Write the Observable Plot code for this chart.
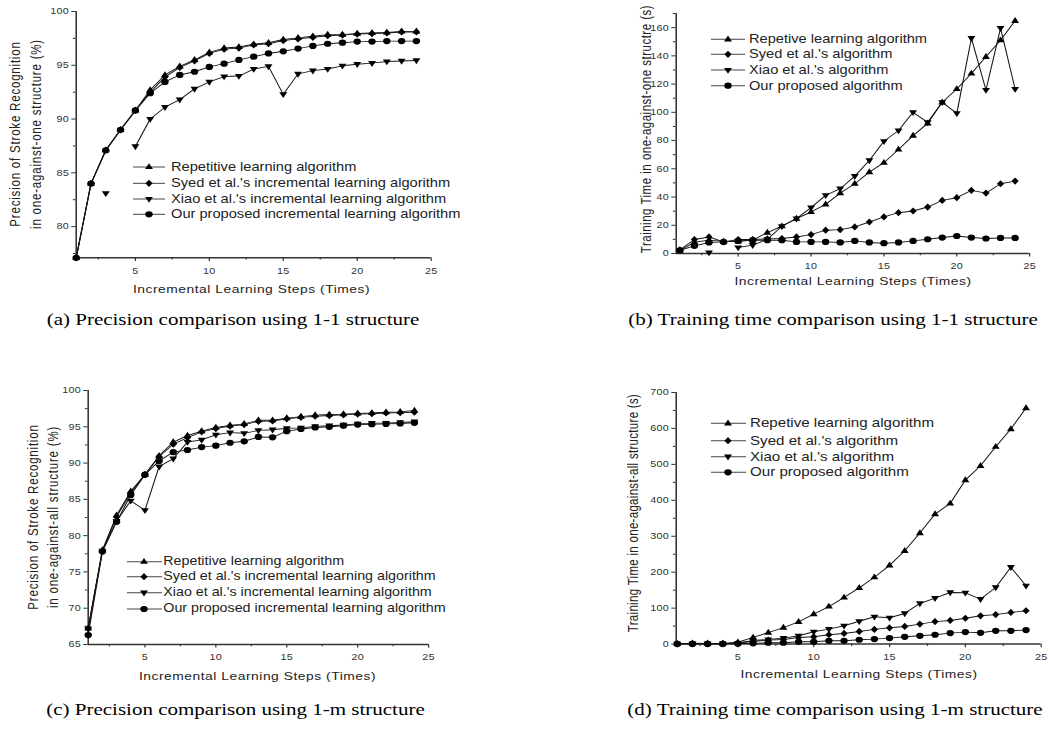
<!DOCTYPE html>
<html><head><meta charset="utf-8">
<script src="https://cdn.jsdelivr.net/npm/d3@7"></script>
<script src="https://cdn.jsdelivr.net/npm/@observablehq/plot@0.6"></script>
<style>
html,body{margin:0;padding:0;background:#fff;}
#fig{position:relative;width:875px;height:736px;transform:scaleX(1.2);transform-origin:0 0;overflow:visible;}
.abs{position:absolute;white-space:nowrap;line-height:1;}
.sans{font-family:"Liberation Sans",Arial,sans-serif;color:#222;}
.serif{font-family:"Liberation Serif","Times New Roman",serif;color:#000;}
</style></head><body><div id="fig"></div><script>
// ---------- data ----------
const steps = [1,2,3,4,5,6,7,8,9,10,11,12,13,14,15,16,17,18,19,20,21,22,23,24];
const xTicks = [5,10,15,20,25];
const xMinor = [2.5,7.5,12.5,17.5,22.5];

const seriesLong = ["Repetitive learning algorithm","Syed et al.'s incremental learning algorithm","Xiao et al.'s incremental learning algorithm","Our proposed incremental learning algorithm"];
const seriesShort = ["Repetive learning algorithm","Syed et al.'s algorithm","Xiao et al.'s algorithm","Our proposed algorithm"];

// (a) precision, 1-1 structure
const aRep  = [77.1,84.0,87.1,89.0,90.8,92.7,94.1,94.9,95.5,96.2,96.6,96.7,96.95,97.1,97.4,97.55,97.7,97.85,97.85,97.95,98.0,98.05,98.15,98.15];
const aSyed = [77.1,84.0,87.1,89.0,90.8,92.5,93.9,94.8,95.4,96.1,96.5,96.6,96.9,97.0,97.3,97.45,97.6,97.75,97.8,97.9,97.95,98.0,98.1,98.1];
const aXiao = [null,null,83.1,null,87.45,90.0,91.1,91.8,92.8,93.45,93.95,94.0,94.65,94.9,92.3,94.2,94.5,94.65,94.95,95.1,95.2,95.35,95.4,95.45];
const aOurs = [77.1,84.0,87.1,89.0,90.8,92.4,93.45,94.1,94.4,94.85,95.15,95.5,95.8,96.1,96.3,96.55,96.8,97.0,97.1,97.2,97.2,97.25,97.25,97.25];
const aYTicks = [80,85,90,95,100];
const aYMinor = [77.5,82.5,87.5,92.5,97.5];

// (b) training time, 1-1 structure
const bRep  = [2,8,9.5,8.5,8.5,9.5,14.8,19.3,24.7,29.4,34.8,42.8,49.4,57.6,64.3,73.7,83.5,92.2,107.1,116.5,127.5,139.3,151.1,164.8];
const bSyed = [2.6,9.9,11.7,8.2,9.9,9.9,10.3,10.6,11.7,13.4,16.5,16.9,18.8,22.3,25.9,28.9,30.1,32.9,37.6,39.5,44.7,42.8,49.4,51.3];
const bXiao = [null,null,0.7,null,4.2,5.9,10,19.3,24.7,32.5,41.2,45.9,54.8,65.9,79.5,87.1,100,92.9,107.1,99.3,152.5,115.8,159.6,116.5];
const bOurs = [2.3,5.4,7.8,8.2,8.9,9.4,9.4,9.4,8.2,8.2,8.2,7.8,8.9,7.8,7.3,7.8,8.9,10.1,11.3,12.4,11.3,10.6,11,11];
const bYTicks = [0,20,40,60,80,100,120,140,160];
const bYMinor = [10,30,50,70,90,110,130,150,170];

// (c) precision, 1-m structure
const cRep  = [67.2,78.0,82.8,86.1,88.4,91.0,92.9,93.8,94.4,94.9,95.2,95.4,95.9,95.9,96.2,96.4,96.6,96.7,96.75,96.85,96.9,97.0,97.05,97.25];
const cSyed = [67.2,77.9,82.6,85.9,88.4,90.9,92.6,93.5,94.3,94.75,95.1,95.3,95.75,95.8,96.1,96.3,96.45,96.55,96.65,96.75,96.8,96.9,96.95,97.0];
const cXiao = [67.2,77.9,82.0,84.8,83.5,89.5,90.6,92.9,93.2,93.9,94.2,94.1,94.5,94.6,94.8,94.85,95.05,95.15,95.25,95.4,95.5,95.5,95.6,95.7];
const cOurs = [66.3,77.8,81.9,85.6,88.4,90.3,91.5,91.8,92.2,92.4,92.8,93.0,93.6,93.55,94.4,94.7,94.9,95.0,95.15,95.3,95.35,95.4,95.45,95.55];
const cYTicks = [65,70,75,80,85,90,95,100];
const cYMinor = [67.5,72.5,77.5,82.5,87.5,92.5,97.5];

// (d) training time, 1-m structure
const dRep  = [1,2.5,2,2,5,18.5,32,46,62,83.5,104.5,129.7,156.5,186,219,259.6,308.8,361.7,391.3,456.3,496.1,549,598.2,656.6];
const dSyed = [0.5,1,1,1,3,7,11,12.8,18.5,20.3,25.9,29.6,35.1,40.9,45.3,49,55.6,62.5,65.8,71.8,78.7,82.1,88,92.7];
const dXiao = [0.5,1,1,1,3,10,12.8,16.7,23.1,34.2,41.7,50.9,63.4,76,73.2,85.2,113,128,143.6,142.7,125.2,157.5,214,162.2];
const dOurs = [0.5,0.5,0.5,0.5,1,2,3.7,3.7,6.4,6.4,9.2,9.2,12,13.9,16.7,20.3,23.1,25.9,30.6,33.4,31.4,37,37,38.9];
const dYTicks = [0,100,200,300,400,500,600,700];
const dYMinor = [50,150,250,350,450,550,650];

// ---------- drawing ----------
const S = 1.2;                 // horizontal stretch of the original figure
const X = px => px / S;
const fig = document.getElementById("fig");
const axisColor = "#333";

function poly(points){
  return {draw(ctx){ ctx.moveTo(points[0][0], points[0][1]); for (let i = 1; i < points.length; i++) ctx.lineTo(points[i][0], points[i][1]); ctx.closePath(); }};
}
const triUp   = poly([[0,-3.8],[-3.3,2.1],[3.3,2.1]]);
const diamond = poly([[0,-3.6],[3.0,0],[0,3.6],[-3.0,0]]);
const triDown = poly([[0,3.8],[-3.3,-2.1],[3.3,-2.1]]);
const circle  = {draw(ctx){ ctx.moveTo(3.1,0); ctx.arc(0,0,3.1,0,2*Math.PI); }};
const symbols = [triUp, diamond, triDown, circle];

function panel(cfg){
  const mL = 34, mR = 14, mT = 8, mB = 26;
  const L = X(cfg.left), R = X(cfg.right);
  const w = R - L, h = cfg.bottom - cfg.top;
  const rows = [];
  cfg.series.forEach((vals, i) => vals.forEach((v, j) => rows.push({step: steps[j], value: v, series: i})));
  const marks = [
    Plot.axisX({ticks: xMinor, tickSize: 2.3, tickFormat: () => "", stroke: axisColor, label: null}),
    Plot.axisX({ticks: xTicks, tickSize: 3.6, tickPadding: 6, tickFormat: d => String(d), stroke: axisColor, label: null}),
    Plot.axisY({ticks: cfg.yMinor, tickSize: 2.3, tickFormat: () => "", stroke: axisColor, label: null}),
    Plot.axisY({ticks: cfg.yTicks, tickSize: 3.6, tickPadding: 2.5, tickFormat: d => String(d), stroke: axisColor, label: null}),
    Plot.ruleX([cfg.xDomain[0]], {stroke: axisColor, strokeWidth: 1.3}),
    Plot.ruleY([cfg.yDomain[0]], {stroke: axisColor, strokeWidth: 1.5}),
    Plot.line(rows, {x: "step", y: "value", z: "series", stroke: "#151515", strokeWidth: 0.9}),
    ...symbols.map((s, i) => Plot.dot(rows.filter(r => r.series === i), {x: "step", y: "value", symbol: s, fill: "#000", stroke: "none"}))
  ];
  const svg = Plot.plot({
    width: w + mL + mR, height: h + mT + mB,
    marginLeft: mL, marginRight: mR, marginTop: mT, marginBottom: mB,
    x: {domain: cfg.xDomain}, y: {domain: cfg.yDomain},
    style: {fontFamily: "'Liberation Sans', Arial, sans-serif", fontSize: "9px", color: "#333", background: "transparent", overflow: "visible", letterSpacing: "0.2px"},
    marks
  });
  svg.style.position = "absolute";
  svg.style.left = (L - mL) + "px";
  svg.style.top = (cfg.top - mT) + "px";
  fig.appendChild(svg);
}

function text(str, x, y, o = {}){
  const size = o.size ?? 11.5;
  const d = document.createElement("div");
  d.className = "abs " + (o.cls ?? "sans");
  d.textContent = str;
  d.style.fontSize = size + "px";
  d.style.letterSpacing = (o.ls ?? 0) + "px";
  d.style.left = X(x) + "px";
  d.style.top = y + "px";
  const tx = (o.anchor ?? "middle") === "middle" ? "-50%" : (o.anchor === "end" ? "-100%" : "0");
  d.style.transform = `translate(${tx}, -50%)` + (o.rotate ? ` rotate(${o.rotate}deg)` : "");
  fig.appendChild(d);
}

// legend overlay
const leg = d3.select(fig).append("svg").attr("width", 875).attr("height", 736)
  .style("position", "absolute").style("left", "0px").style("top", "0px").style("overflow", "visible");
function legend(names, x1, x2, xm, xt, ys, size){
  names.forEach((name, i) => {
    leg.append("line").attr("x1", X(x1)).attr("x2", X(x2)).attr("y1", ys[i]).attr("y2", ys[i])
      .attr("stroke", "#444").attr("stroke-width", 1);
    const p = d3.path(); symbols[i].draw(p);
    leg.append("path").attr("d", p.toString()).attr("transform", `translate(${X(xm)},${ys[i]})`).attr("fill", "#000");
    text(name, xt, ys[i], {size, anchor: "start"});
  });
}

// (a)
panel({left: 75, right: 430, top: 11, bottom: 257.3, xDomain: [1, 25], yDomain: [77.1, 100],
  yTicks: aYTicks, yMinor: aYMinor, series: [aRep, aSyed, aXiao, aOurs]});
// (b)
panel({left: 675, right: 1028.5, top: 13.3, bottom: 253.3, xDomain: [0.75, 25], yDomain: [0, 170],
  yTicks: bYTicks, yMinor: bYMinor, series: [bRep, bSyed, bXiao, bOurs]});
// (c)
panel({left: 87.3, right: 427.7, top: 390, bottom: 644, xDomain: [1, 25], yDomain: [65, 100],
  yTicks: cYTicks, yMinor: cYMinor, series: [cRep, cSyed, cXiao, cOurs]});
// (d)
panel({left: 675, right: 1040, top: 391.7, bottom: 643.3, xDomain: [0.93, 25], yDomain: [0, 700],
  yTicks: dYTicks, yMinor: dYMinor, series: [dRep, dSyed, dXiao, dOurs]});

legend(seriesLong, 133, 165, 149, 171, [167, 183.3, 199, 214.3], 12.2);
legend(seriesShort, 711, 745, 728, 749, [39.3, 54.3, 70, 85.7], 12.2);
legend(seriesLong, 127, 162, 144, 163.3, [561.7, 576.7, 592.7, 609], 11.9);
legend(seriesShort, 711, 746, 728, 750, [423.3, 440.7, 456.7, 472.3], 12.6);

// axis titles
const xTitle = "Incremental Learning Steps (Times)";
text(xTitle, 251.5, 289.5, {ls: 0.45});
text(xTitle, 853, 282, {ls: 0.45});
text(xTitle, 257.5, 677, {ls: 0.45});
text(xTitle, 859, 675, {ls: 0.45});
text("Precision of Stroke Recognition", 16, 134, {rotate: -90, ls: 0.8});
text("in one-against-one structure (%)", 37, 134, {rotate: -90, ls: 0.8});
text("Training Time in one-against-one structre (s)", 647, 129, {rotate: -90, ls: 0.5});
text("Precision of Stroke Recognition", 34, 517, {rotate: -90, ls: 0.8});
text("in one-against-all structure (%)", 53.5, 517, {rotate: -90, ls: 0.8});
text("Training Time in one-against-all structure (s)", 634, 513, {rotate: -90, ls: 0.3});

// captions
const cap = {size: 17.5, cls: "serif"};
text("(a) Precision comparison using 1-1 structure", 233, 320, cap);
text("(b) Training time comparison using 1-1 structure", 833, 320, cap);
text("(c) Precision comparison using 1-m structure", 235.5, 710, cap);
text("(d) Training time comparison using 1-m structure", 835, 710, cap);
</script></body></html>
